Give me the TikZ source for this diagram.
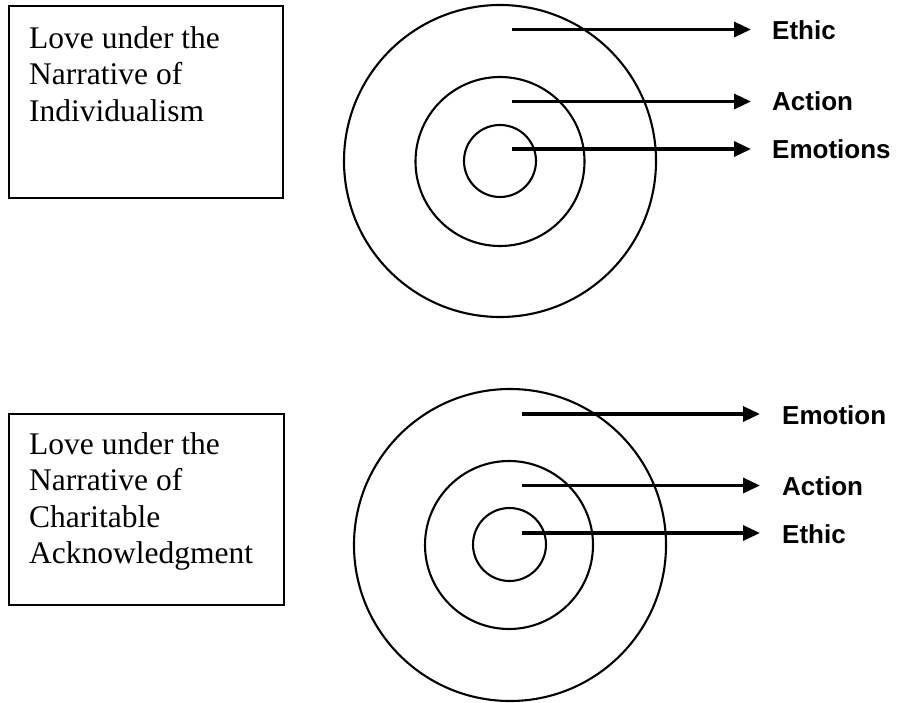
\documentclass[tikz,border=0pt]{standalone}
\usepackage{fontspec}
\setmainfont{Liberation Serif}
\newfontfamily\lblfont{Liberation Sans}
\usetikzlibrary{arrows.meta}
\begin{document}
\begin{tikzpicture}[x=1pt,y=-1pt,
  ring/.style={circle, draw, line width=2.1pt, inner sep=0pt},
  titlebox/.style={draw, line width=2pt, anchor=north west, inner sep=0pt},
  titletext/.style={anchor=north west, align=left, inner sep=0pt, font=\fontsize{31.5}{36.5}\selectfont},
  pointer/.style={line width=3.3pt, -{Triangle[length=17pt,width=15pt]}},
  lbl/.style={anchor=base west, inner sep=0pt, font=\lblfont\bfseries\fontsize{26}{30}\selectfont}]
\useasboundingbox (0,0) rectangle (899,703);
% top group
\node[titlebox, minimum width=274pt, minimum height=192pt] (b1) at (8,5) {};
\node[titletext] (t1) at (29,26) {Love under the\\Narrative of\\Individualism};
\node[ring, minimum size=312pt] (o1) at (500,161) {};
\node[ring, minimum size=169pt] (m1) at (500,161.5) {};
\node[ring, minimum size=72pt] (i1) at (500,161) {};
\coordinate (s1a) at (512,29.5);
\coordinate (e1a) at (751,29.5);
\coordinate (s1b) at (512,101.5);
\coordinate (e1b) at (751,101.5);
\coordinate (s1c) at (512,149);
\coordinate (e1c) at (751,149);
\draw[pointer] (s1a) -- (e1a);
\draw[pointer] (s1b) -- (e1b);
\draw[pointer] (s1c) -- (e1c);
\node[lbl] (l1a) at (772,39.5) {Ethic};
\node[lbl] (l1b) at (772,111) {Action};
\node[lbl] (l1c) at (772,158.5) {Emotions};
% bottom group
\node[titlebox, minimum width=275pt, minimum height=191pt] (b2) at (8,413) {};
\node[titletext] (t2) at (29,432) {Love under the\\Narrative of\\Charitable\\Acknowledgment};
\node[ring, minimum size=312pt] (o2) at (510,545) {};
\node[ring, minimum size=168pt] (m2) at (509,545) {};
\node[ring, minimum size=73pt] (i2) at (509.5,544.5) {};
\coordinate (s2a) at (522,414);
\coordinate (e2a) at (760,414);
\coordinate (s2b) at (522,485.5);
\coordinate (e2b) at (760,485.5);
\coordinate (s2c) at (522,533);
\coordinate (e2c) at (760,533);
\draw[pointer] (s2a) -- (e2a);
\draw[pointer] (s2b) -- (e2b);
\draw[pointer] (s2c) -- (e2c);
\node[lbl] (l2a) at (782,424) {Emotion};
\node[lbl] (l2b) at (782,495.5) {Action};
\node[lbl] (l2c) at (782,543) {Ethic};
\end{tikzpicture}
\end{document}
